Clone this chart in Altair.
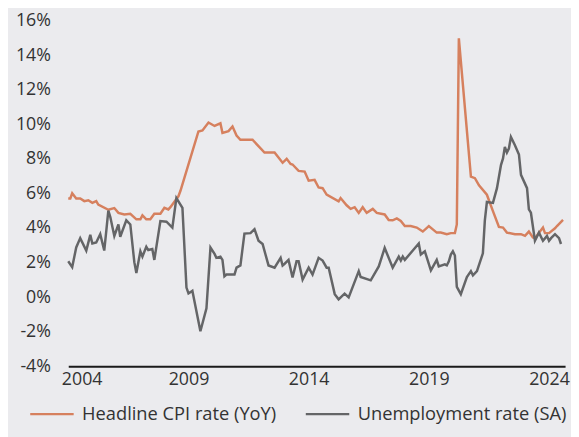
import altair as alt
import pandas as pd

# Series labelled "Headline CPI rate (YoY)" (orange)
cpi_dates = [
    "2004-01", "2004-02", "2004-03", "2004-05", "2004-07", "2004-09", "2004-11",
    "2005-01", "2005-03", "2005-04", "2005-09", "2005-12", "2006-02", "2006-05",
    "2006-08", "2006-11", "2007-01", "2007-02", "2007-04", "2007-06", "2007-08",
    "2007-11", "2008-01", "2008-03", "2008-04", "2008-08", "2008-09", "2009-06",
    "2009-08", "2009-11", "2010-02", "2010-05", "2010-06", "2010-09", "2010-11",
    "2011-01", "2011-03", "2011-09", "2012-03", "2012-08", "2012-12", "2013-02",
    "2013-04", "2013-05", "2013-08", "2013-11", "2014-01", "2014-04", "2014-06",
    "2014-08", "2014-10", "2015-04", "2015-05", "2015-08", "2015-10", "2015-12",
    "2016-02", "2016-04", "2016-06", "2016-09", "2016-11", "2017-03", "2017-05",
    "2017-07", "2017-09", "2017-11", "2018-01", "2018-04", "2018-07", "2018-10",
    "2019-01", "2019-05", "2019-07", "2019-10", "2019-12", "2020-02", "2020-03",
    "2020-04", "2020-10", "2020-12", "2021-02", "2021-06", "2021-09", "2021-12",
    "2022-02", "2022-04", "2022-08", "2022-11", "2023-01", "2023-03", "2023-05",
    "2023-06", "2023-10", "2023-11", "2024-01", "2024-04", "2024-05", "2024-08",
]
cpi_values = [
    5.7, 5.7, 6.0, 5.7, 5.7, 5.55, 5.6,
    5.45, 5.55, 5.35, 5.05, 5.15, 4.87, 4.78,
    4.82, 4.5, 4.5, 4.73, 4.5, 4.5, 4.82,
    4.82, 5.16, 5.07, 5.2, 5.83, 6.15, 9.58,
    9.64, 10.1, 9.9, 10.05, 9.5, 9.6, 9.87,
    9.35, 9.1, 9.1, 8.36, 8.36, 7.77, 8.0,
    7.7, 7.67, 7.3, 7.26, 6.73, 6.78, 6.34,
    6.3, 5.93, 5.54, 5.73, 5.31, 5.1, 5.2,
    4.87, 5.2, 4.87, 5.1, 4.87, 4.78, 4.46,
    4.44, 4.55, 4.4, 4.11, 4.11, 4.02, 3.79,
    4.11, 3.73, 3.73, 3.64, 3.7, 3.7, 4.2,
    14.97, 6.97, 6.88, 6.46, 5.92, 4.97, 4.06,
    4.02, 3.73, 3.64, 3.64, 3.54, 3.79, 3.45,
    3.41, 4.02, 3.7, 3.7, 3.98, 4.11, 4.46,
]

# Series labelled "Unemployment rate (SA)" (grey)
unemp_dates = [
    "2004-01", "2004-03", "2004-05", "2004-07", "2004-10", "2004-12", "2005-01",
    "2005-03", "2005-05", "2005-07", "2005-08", "2005-09", "2005-10", "2005-12",
    "2006-02", "2006-03", "2006-06", "2006-08", "2006-10", "2006-11", "2007-01",
    "2007-02", "2007-04", "2007-05", "2007-07", "2007-08", "2007-11", "2008-02",
    "2008-05", "2008-07", "2008-10", "2008-12", "2009-01", "2009-03", "2009-07",
    "2009-10", "2009-12", "2010-02", "2010-03", "2010-05", "2010-06", "2010-07",
    "2010-08", "2010-12", "2011-01", "2011-03", "2011-05", "2011-08", "2011-10",
    "2011-12", "2012-02", "2012-05", "2012-08", "2012-11", "2012-12", "2013-01",
    "2013-03", "2013-05", "2013-07", "2013-08", "2013-10", "2014-01", "2014-03",
    "2014-06", "2014-08", "2014-10", "2014-11", "2015-02", "2015-04", "2015-07",
    "2015-09", "2016-02", "2016-03", "2016-08", "2016-12", "2017-03", "2017-07",
    "2017-10", "2017-11", "2017-12", "2018-01", "2018-08", "2018-09", "2018-11",
    "2019-02", "2019-05", "2019-06", "2019-09", "2019-10", "2019-11", "2019-12",
    "2020-01", "2020-02", "2020-03", "2020-05", "2020-08", "2020-10", "2020-11",
    "2021-01", "2021-04", "2021-05", "2021-06", "2021-09", "2021-11", "2022-01",
    "2022-02", "2022-03", "2022-04", "2022-05", "2022-06", "2022-08", "2022-10",
    "2022-11", "2023-02", "2023-03", "2023-04", "2023-06", "2023-08", "2023-10",
    "2023-12", "2024-01", "2024-02", "2024-04", "2024-06", "2024-07",
]
unemp_values = [
    2.07, 1.73, 2.87, 3.41, 2.69, 3.6, 3.1,
    3.16, 3.64, 2.69, 3.83, 5.0, 4.63, 3.54,
    4.2, 3.49, 4.44, 4.2, 2.02, 1.39, 2.65,
    2.34, 2.91, 2.72, 2.78, 2.15, 4.4, 4.36,
    4.02, 5.73, 5.16, 0.55, 0.21, 0.36, -1.98,
    -0.65, 2.87, 2.5, 2.27, 2.34, 2.15, 1.2,
    1.3, 1.3, 1.7, 1.83, 3.67, 3.7, 3.93,
    3.26, 3.07, 1.83, 1.7, 2.27, 1.83, 1.93,
    2.15, 1.13, 2.07, 2.07, 1.01, 1.7, 1.3,
    2.27, 2.11, 1.7, 1.7, 0.17, -0.13, 0.2,
    -0.02, 1.5, 1.16, 0.97, 1.77, 2.84, 1.7,
    2.34, 2.11, 2.34, 2.15, 3.1, 2.46, 2.65,
    1.54, 2.15, 1.77, 1.89, 1.83, 2.07, 2.46,
    2.65, 2.4, 0.59, 0.17, 1.16, 1.5, 1.26,
    1.5, 2.53, 4.44, 5.5, 5.45, 6.3, 7.64,
    8.02, 8.69, 8.36, 8.59, 9.26, 8.78, 8.25,
    7.07, 6.3, 5.07, 4.88, 3.26, 3.73, 3.26,
    3.54, 3.26, 3.41, 3.64, 3.41, 3.07,
]

series_names = ["Headline CPI rate (YoY)", "Unemployment rate (SA)"]
series_colors = ["#D6805E", "#646567"]
y_ticks = [-4, -2, 0, 2, 4, 6, 8, 10, 12, 14, 16]
x_tick_years = [2004, 2009, 2014, 2019, 2024]

cpi_df = pd.DataFrame({
    "date": pd.to_datetime(cpi_dates, format="%Y-%m"),
    "value": cpi_values,
    "series": series_names[0],
})
unemp_df = pd.DataFrame({
    "date": pd.to_datetime(unemp_dates, format="%Y-%m"),
    "value": unemp_values,
    "series": series_names[1],
})

FONT = "Open Sans"
TEXT = "#333333"

x_enc = alt.X(
    "date:T",
    scale=alt.Scale(domain=[alt.DateTime(year=2004, month=1, date=1),
                            alt.DateTime(year=2024, month=9, date=1)]),
    axis=alt.Axis(
        title=None,
        values=[alt.DateTime(year=y, month=1, date=1) for y in x_tick_years],
        format="%Y",
        grid=False,
        ticks=False,
        tickSize=0,
        domain=True,
        domainColor="#1a1a1a",
        domainWidth=2,
        labelFontSize=18,
        labelFont=FONT,
        labelColor=TEXT,
        labelPadding=5,
        labelFlush=True,
        labelFlushOffset=7,
    ),
)
y_enc = alt.Y(
    "value:Q",
    scale=alt.Scale(domain=[-4, 16], nice=False),
    axis=alt.Axis(
        title=None,
        values=y_ticks,
        labelExpr="datum.value + '%'",
        grid=False,
        ticks=False,
        tickSize=0,
        domain=False,
        labelFontSize=18,
        labelFont=FONT,
        labelColor=TEXT,
        labelPadding=18,
    ),
)
color_enc = alt.Color(
    "series:N",
    scale=alt.Scale(domain=series_names, range=series_colors),
    legend=alt.Legend(
        title=None,
        orient="none",
        legendX=-40,
        legendY=375,
        direction="horizontal",
        symbolType="stroke",
        symbolSize=1936,
        symbolStrokeWidth=2.5,
        labelFontSize=18.5,
        labelFont=FONT,
        labelColor=TEXT,
        labelOffset=7,
        labelLimit=0,
        columnPadding=24,
        padding=0,
    ),
)

cpi_line = alt.Chart(cpi_df).mark_line(strokeWidth=2.5).encode(
    x=x_enc, y=y_enc, color=color_enc
)
unemp_line = alt.Chart(unemp_df).mark_line(strokeWidth=2.5).encode(
    x=x_enc, y=y_enc, color=color_enc
)

chart = alt.layer(cpi_line, unemp_line).properties(
    width=503,
    height=350,
    autosize=alt.AutoSizeParams(type="none"),
    padding={"left": 61, "top": 10, "right": 6, "bottom": 69},
    background="#EBEBEE",
).configure_view(stroke=None)

chart.save("out.html", embed_options={"renderer": "svg", "actions": False})
